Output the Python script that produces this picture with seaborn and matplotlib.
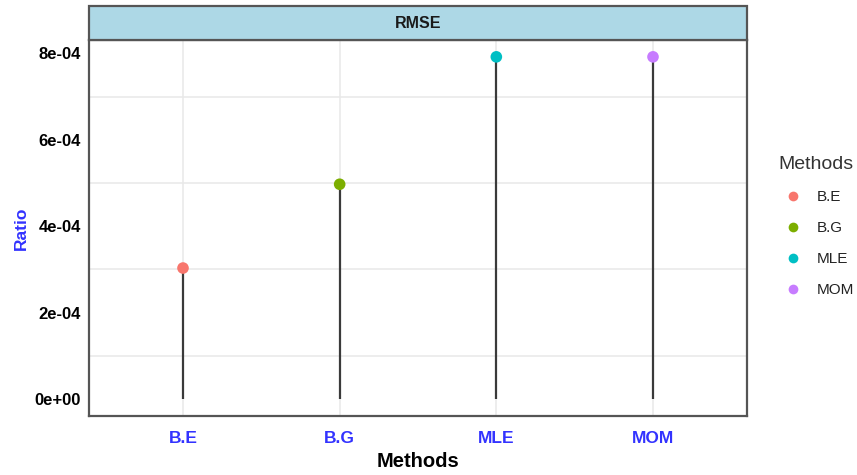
import matplotlib
matplotlib.use("Agg")
import matplotlib.pyplot as plt
import seaborn as sns
import pandas as pd
from matplotlib.patches import Rectangle
from matplotlib.lines import Line2D

methods = ["B.E", "B.G", "MLE", "MOM"]
rmse = [3.03e-4, 4.97e-4, 7.92e-4, 7.92e-4]
palette = ["#F8766D", "#7CAE00", "#00BFC4", "#C77CFF"]
y_ticks = [0, 2e-4, 4e-4, 6e-4, 8e-4]
y_tick_labels = ["0e+00", "2e-04", "4e-04", "6e-04", "8e-04"]
y_minor = [1e-4, 3e-4, 5e-4, 7e-4]

df = pd.DataFrame({"Methods": methods, "Ratio": rmse})

sns.set_theme(style="white")
plt.rcParams["font.family"] = ["Liberation Sans", "DejaVu Sans"]

fig = plt.figure(figsize=(8.57, 4.75), dpi=100)
ax = fig.add_axes([89 / 857, 1 - 416 / 475, (747 - 89) / 857, (416 - 40) / 475])

# gridlines: vertical at categories, horizontal at the minor breaks
for i in range(len(methods)):
    ax.axvline(i, color="#e8e8e8", lw=1.1, zorder=0)
for v in y_minor:
    ax.axhline(v, color="#e8e8e8", lw=1.1, zorder=0)

# lollipop stems
ax.vlines(x=range(len(methods)), ymin=0, ymax=df["Ratio"], color="#3a3a3a", lw=1.6, zorder=2)

sns.scatterplot(data=df, x="Methods", y="Ratio", hue="Methods", palette=palette,
                s=70, edgecolor="none", legend=False, ax=ax, zorder=3)

ax.set_xlim(-0.6, len(methods) - 0.4)
ax.set_ylim(-0.396e-4, 8.31e-4)
ax.set_xticks(range(len(methods)))
ax.set_xticklabels(methods)
ax.set_yticks(y_ticks)
ax.set_yticklabels(y_tick_labels)

for lab in ax.get_xticklabels():
    lab.set_color("#3333ff")
    lab.set_fontweight("bold")
    lab.set_fontsize(12.5)
for lab in ax.get_yticklabels():
    lab.set_color("black")
    lab.set_fontweight("bold")
    lab.set_fontsize(12)

ax.tick_params(axis="x", length=4, color="#dddddd", pad=7)
ax.tick_params(axis="y", length=0, pad=6)

ax.set_xlabel("Methods", fontsize=14.5, fontweight="bold", color="black", labelpad=4)
ax.set_ylabel("Ratio", fontsize=12.5, fontweight="bold", color="#3333ff", labelpad=4)

for s in ax.spines.values():
    s.set_color("#555555")
    s.set_linewidth(1.6)
    s.set_visible(True)

# facet strip
strip = Rectangle((89 / 857, 1 - 40 / 475), (747 - 89) / 857, 34 / 475,
                  transform=fig.transFigure, facecolor="#ADD8E6", edgecolor="#555555",
                  lw=1.6, zorder=5)
fig.patches.append(strip)
fig.text((89 + 747) / 2 / 857, 1 - 24 / 475, "RMSE", ha="center", va="center",
         fontsize=11.5, fontweight="bold", color="#1a1a1a", zorder=10)

handles = [Line2D([0], [0], marker="o", linestyle="", markersize=7,
                  markerfacecolor=c, markeredgecolor="none") for c in palette]
leg = fig.legend(handles, methods, title="Methods", loc="upper left",
                 bbox_to_anchor=(772 / 857, 1 - 150 / 475), frameon=False,
                 fontsize=11, title_fontsize=14, handletextpad=0.5,
                 labelspacing=1.11, borderaxespad=0)
leg._legend_box.align = "left"
for t in leg.get_texts():
    t.set_color("#222222")
leg.get_title().set_color("#333333")

fig.savefig("out.png", dpi=100)
